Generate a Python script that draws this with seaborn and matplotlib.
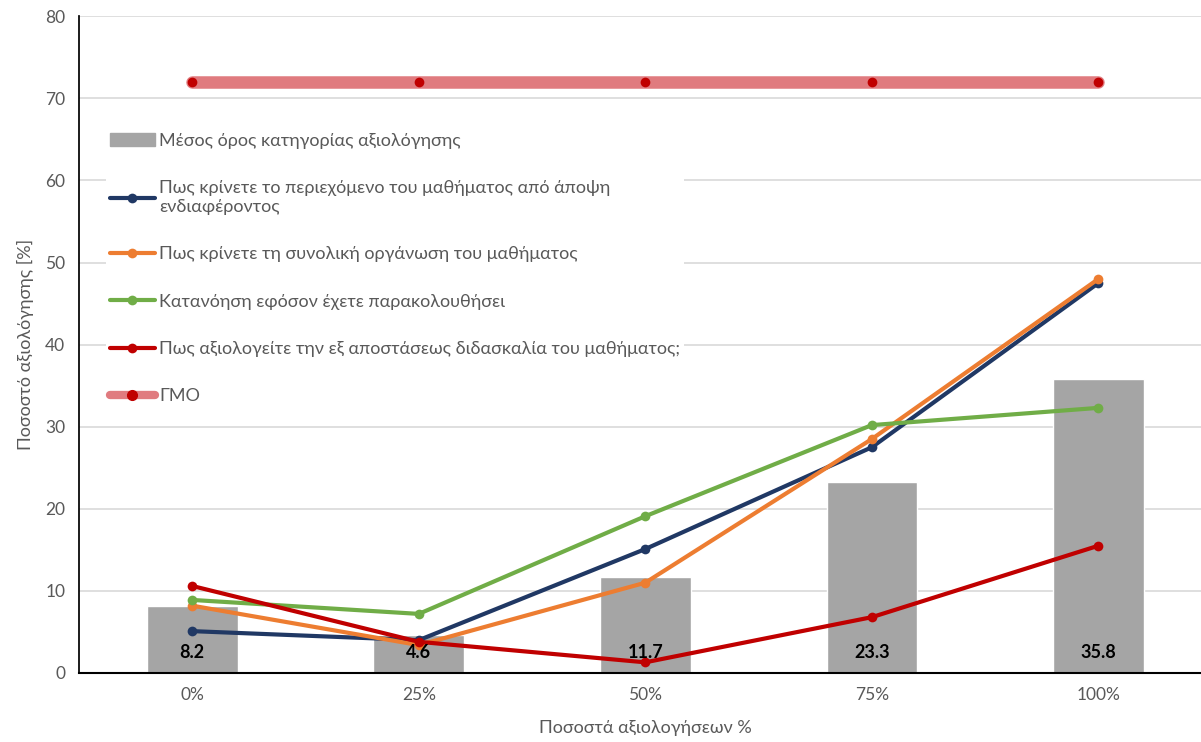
import numpy as np
import pandas as pd
import matplotlib.pyplot as plt
import seaborn as sns

# chart data
categories = ["0%", "25%", "50%", "75%", "100%"]
bar_label = "Μέσος όρος κατηγορίας αξιολόγησης"
bar_values = [8.2, 4.6, 11.7, 23.3, 35.8]

series_names = [
    "Πως κρίνετε το περιεχόμενο του μαθήματος από άποψη\nενδιαφέροντος",
    "Πως κρίνετε τη συνολική οργάνωση του μαθήματος",
    "Κατανόηση εφόσον έχετε παρακολουθήσει",
    "Πως αξιολογείτε την εξ αποστάσεως διδασκαλία του μαθήματος;",
]
content = [5.1, 4.0, 15.1, 27.5, 47.5]
organisation = [8.2, 3.4, 11.0, 28.5, 48.0]
understanding = [8.9, 7.2, 19.1, 30.2, 32.3]
remote = [10.6, 3.8, 1.3, 6.8, 15.5]
gmo_label = "ΓΜΟ"
gmo = [72, 72, 72, 72, 72]

colors = ["#203864", "#ED7D31", "#70AD47", "#C00000"]

sns.set_theme(style="white")
plt.rcParams["font.family"] = ["Lato", "Open Sans", "DejaVu Sans"]

fig = plt.figure(figsize=(12.01, 7.42), dpi=100)
ax = fig.add_axes([0.0658, 0.093, 0.943, 0.885])

pos = np.arange(len(categories))
df_bar = pd.DataFrame({"x": pos, "v": bar_values})
sns.barplot(data=df_bar, x="x", y="v", color="#A5A5A5", width=0.4,
            saturation=1, ax=ax, native_scale=True, zorder=2)

for p, v in zip(pos, bar_values):
    ax.text(p, 2.5, f"{v:.1f}", ha="center", va="center", fontsize=13,
            fontweight="bold", color="black", zorder=6)

handles = [plt.Rectangle((0, 0), 1, 1, color="#A5A5A5")]
for vals, name, c in zip([content, organisation, understanding, remote], series_names, colors):
    sns.lineplot(x=pos, y=vals, color=c, linewidth=3, marker="o", markersize=7,
                 markeredgewidth=0, ax=ax, zorder=4)
    handles.append(ax.lines[-1])

sns.lineplot(x=pos, y=gmo, color="#E07B7F", linewidth=9, ax=ax, zorder=3,
             solid_capstyle="round")
sns.lineplot(x=pos, y=gmo, color="#C00000", linewidth=0, marker="o", markersize=7,
             markeredgewidth=0, ax=ax, zorder=4)
gmo_handle = (plt.Line2D([], [], color="#E07B7F", linewidth=6, solid_capstyle="round"),
              plt.Line2D([], [], color="#C00000", linewidth=0, marker="o", markersize=7))
handles.append(gmo_handle)

leg = ax.legend(handles, [bar_label] + series_names + [gmo_label],
                loc="upper left", bbox_to_anchor=(0.016, 0.842), frameon=True,
                fontsize=13, handlelength=2.5, labelspacing=1.74, borderpad=0.2,
                handletextpad=0.25)
leg.get_frame().set_linewidth(0)
leg.get_frame().set_facecolor("white")
leg.get_frame().set_alpha(1)
for t in leg.get_texts():
    t.set_color("#595959")

ax.set_xlim(-0.5, 4.5)
ax.set_ylim(0, 80)
ax.set_yticks(range(0, 81, 10))
ax.set_xticks(pos)
ax.set_xticklabels(categories)
ax.tick_params(axis="both", length=0, labelsize=12.5, colors="#595959", pad=10)
ax.grid(axis="y", color="#D9D9D9", linewidth=1.2, zorder=0)
ax.set_axisbelow(True)
for s in ["top", "right"]:
    ax.spines[s].set_visible(False)
ax.spines["left"].set_color("black")
ax.spines["bottom"].set_color("black")
ax.spines["bottom"].set_linewidth(1.5)

ax.set_xlabel("Ποσοστά αξιολογήσεων %", fontsize=13, color="#595959", labelpad=12)
ax.set_ylabel("Ποσοστό αξιολόγησης [%]", fontsize=13, color="#595959", labelpad=8)

fig.savefig("out.png", dpi=100)
